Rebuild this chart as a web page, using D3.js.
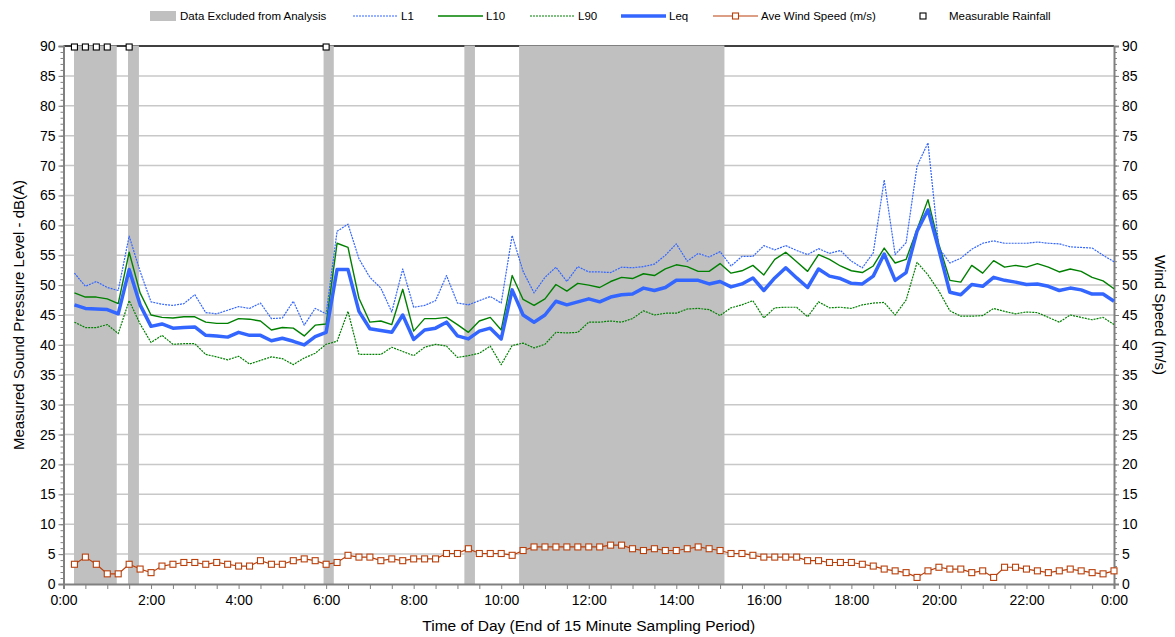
<!DOCTYPE html>
<html>
<head>
<meta charset="utf-8">
<script src="https://cdn.jsdelivr.net/npm/d3@7.9.0/dist/d3.min.js"></script>
<style>
  body { margin: 0; background: #fff; }
  svg { display: block; font-family: "Liberation Sans", Arial, sans-serif; }
</style>
</head>
<body>
<div id="chart"></div>
<script>
/* ------------------------------
 Data (15 minute periods, value at end of period)
------------------------------ */
const minutes = d3.range(1, 97).map((i) => i * 15);

const L1 = [52.0, 49.8, 50.6, 49.6, 49.1, 58.2, 52.3, 47.2, 46.8, 46.6, 46.9, 48.4,
  45.4, 45.2, 45.8, 46.4, 46.1, 47.0, 44.4, 44.5, 47.3, 43.3, 46.1, 45.2,
  59.0, 60.2, 54.4, 51.3, 49.5, 45.5, 52.7, 46.3, 46.6, 47.4, 51.6, 47.0,
  46.7, 47.4, 48.1, 47.0, 58.3, 52.3, 48.7, 51.3, 53.0, 50.6, 53.1, 52.2,
  52.2, 52.1, 53.0, 52.9, 53.1, 53.5, 55.0, 56.9, 54.0, 55.3, 54.7, 55.6,
  53.2, 54.8, 54.8, 56.6, 55.9, 56.6, 55.8, 55.1, 56.1, 55.3, 55.8, 54.0,
  52.9, 55.4, 67.6, 55.1, 57.1, 69.9, 73.8, 56.2, 53.7, 54.5, 56.0, 57.0,
  57.4, 57.0, 57.0, 57.0, 57.2, 57.0, 56.9, 56.4, 56.3, 56.2, 55.0, 53.9];

const L10 = [48.7, 48.0, 48.0, 47.7, 46.9, 55.5, 48.7, 45.0, 44.6, 44.5, 44.7, 44.7,
  43.8, 43.6, 43.6, 44.4, 44.3, 44.0, 42.5, 42.9, 42.8, 41.5, 43.3, 43.5,
  57.0, 56.3, 47.8, 43.8, 44.0, 43.4, 49.3, 42.3, 44.4, 44.4, 44.6, 43.4,
  42.1, 44.0, 44.6, 42.5, 51.6, 47.6, 46.6, 47.7, 50.1, 49.0, 50.3, 50.0,
  49.6, 50.6, 51.3, 51.1, 51.9, 51.6, 52.7, 53.4, 53.1, 52.3, 52.3, 53.6,
  52.0, 52.4, 53.3, 51.7, 54.3, 55.5, 53.9, 52.3, 55.1, 54.3, 53.2, 52.4,
  52.1, 53.2, 56.2, 53.7, 54.3, 59.3, 64.3, 56.8, 50.8, 50.5, 53.3, 52.0,
  54.1, 53.0, 53.3, 53.0, 53.6, 53.0, 52.2, 52.7, 52.3, 51.3, 50.7, 49.4];

const L90 = [43.8, 42.9, 42.9, 43.4, 41.9, 47.4, 43.5, 40.4, 41.6, 40.1, 40.2, 40.2,
  38.4, 38.0, 37.5, 38.1, 36.8, 37.4, 38.0, 37.7, 36.7, 37.8, 38.6, 40.1,
  40.6, 45.6, 38.4, 38.4, 38.4, 39.6, 38.9, 38.2, 39.6, 40.1, 39.8, 37.9,
  38.2, 38.6, 39.8, 36.7, 39.9, 40.3, 39.5, 40.1, 42.1, 42.0, 42.1, 43.8,
  43.8, 44.0, 43.8, 44.4, 45.7, 45.0, 45.3, 45.3, 46.0, 46.1, 45.9, 44.9,
  46.2, 46.7, 47.4, 44.5, 46.2, 46.3, 46.3, 44.7, 47.2, 46.2, 46.3, 46.1,
  46.7, 47.0, 47.1, 45.0, 47.5, 53.8, 51.7, 49.0, 45.7, 44.8, 44.8, 44.9,
  46.1, 45.6, 45.2, 45.5, 45.4, 44.6, 43.8, 45.0, 44.6, 44.2, 44.6, 43.4];

const Leq = [46.7, 46.1, 46.0, 45.9, 45.2, 52.6, 46.7, 43.1, 43.5, 42.8, 42.9, 43.0,
  41.6, 41.5, 41.3, 42.1, 41.6, 41.6, 40.7, 41.1, 40.6, 40.0, 41.4, 42.1,
  52.6, 52.6, 45.6, 42.7, 42.4, 42.1, 45.0, 40.9, 42.5, 42.8, 43.8, 41.5,
  41.0, 42.3, 42.8, 41.0, 49.2, 45.0, 43.8, 45.0, 47.3, 46.7, 47.2, 47.7,
  47.2, 48.0, 48.4, 48.5, 49.5, 49.1, 49.6, 50.8, 50.8, 50.8, 50.2, 50.6,
  49.7, 50.2, 51.2, 49.1, 51.2, 52.9, 51.2, 49.6, 52.7, 51.5, 51.1, 50.3,
  50.2, 51.5, 55.2, 50.8, 52.1, 59.0, 62.6, 55.9, 48.8, 48.4, 50.1, 49.8,
  51.3, 50.8, 50.5, 50.1, 50.2, 49.8, 49.1, 49.5, 49.2, 48.5, 48.5, 47.3];

const wind = [3.3, 4.5, 3.3, 1.7, 1.7, 3.3, 2.5, 1.9, 3.0, 3.3, 3.6, 3.6,
  3.3, 3.6, 3.3, 3.0, 3.0, 3.9, 3.3, 3.3, 3.9, 4.2, 3.9, 3.3,
  3.6, 4.8, 4.5, 4.5, 3.9, 4.2, 3.9, 4.2, 4.2, 4.2, 5.1, 5.1,
  5.9, 5.1, 5.1, 5.1, 4.8, 5.6, 6.2, 6.2, 6.2, 6.2, 6.2, 6.2,
  6.2, 6.5, 6.5, 5.9, 5.6, 5.9, 5.6, 5.6, 5.9, 6.2, 5.9, 5.6,
  5.1, 5.1, 4.8, 4.5, 4.5, 4.5, 4.5, 3.9, 3.9, 3.6, 3.6, 3.6,
  3.3, 3.0, 2.5, 2.2, 1.9, 1.1, 2.2, 2.8, 2.5, 2.5, 1.9, 2.2,
  1.1, 2.8, 2.8, 2.5, 2.2, 1.9, 2.2, 2.5, 2.2, 1.9, 1.7, 2.2];

// minutes of day with measurable rainfall (plotted at top of chart)
const rainfallMinutes = [15, 30, 45, 60, 90, 360];
const rainfallLevel = 90;

// excluded periods, start / end in minutes
const excluded = [[14.4, 73], [88.4, 103.4], [356.5, 370.5], [549.5, 564], [624.5, 906]];

const yTicks = d3.range(0, 95, 5);

/* ------------------------------
 Layout
------------------------------ */
const width = 1175;
const height = 637;
const margin = { top: 46, right: 61, bottom: 53, left: 63.5 };

const svg = d3.select("#chart").append("svg")
  .attr("width", width)
  .attr("height", height);

const x = d3.scaleLinear().domain([0, 1440]).range([margin.left, width - margin.right]);
const y = d3.scaleLinear().domain([0, 90]).range([height - margin.bottom, margin.top]);

// --- Gridlines ---
svg.append("g")
  .selectAll("line")
  .data(yTicks.filter((d) => d > 0 && d < 90))
  .join("line")
  .attr("x1", x(0)).attr("x2", x(1440))
  .attr("y1", (d) => y(d)).attr("y2", (d) => y(d))
  .attr("stroke", "#c8c8c8")
  .attr("stroke-width", 1.5);

svg.append("line")
  .attr("x1", x(0)).attr("x2", x(1440))
  .attr("y1", y(90)).attr("y2", y(90))
  .attr("stroke", "#000")
  .attr("stroke-width", 1.5);

// --- Excluded bands ---
svg.append("g")
  .selectAll("rect")
  .data(excluded)
  .join("rect")
  .attr("x", (d) => x(d[0]))
  .attr("width", (d) => x(d[1]) - x(d[0]))
  .attr("y", y(90) - 0.5)
  .attr("height", y(0) - y(90) + 0.5)
  .attr("fill", "#c0c0c0");

// --- Axes ---
const fmtTime = (m) => `${Math.floor((m % 1440) / 60)}:${String(m % 60).padStart(2, "0")}`;

const xAxis = d3.axisBottom(x)
  .tickValues(d3.range(0, 1441, 30))
  .tickSize(5)
  .tickFormat((d) => (d % 120 === 0 ? fmtTime(d) : ""));

svg.append("g")
  .attr("transform", `translate(0,${y(0)})`)
  .call(xAxis)
  .call((g) => {
    g.select(".domain").attr("stroke", "#808080").attr("stroke-width", 2);
    g.selectAll(".tick line").attr("stroke", "#808080");
    g.selectAll(".tick text").attr("font-size", 14).attr("fill", "#000").attr("dy", "0.95em");
  });

function yAxisFor(axisFn, xPos) {
  const major = axisFn(y).tickValues(yTicks).tickSize(5);
  const minor = axisFn(y).tickValues(d3.range(0, 91, 1)).tickSize(3).tickFormat("");
  svg.append("g")
    .attr("transform", `translate(${xPos},0)`)
    .call(minor)
    .call((g) => {
      g.select(".domain").remove();
      g.selectAll(".tick line").attr("stroke", "#808080");
    });
  svg.append("g")
    .attr("transform", `translate(${xPos},0)`)
    .call(major)
    .call((g) => {
      g.select(".domain").attr("stroke", "#808080").attr("stroke-width", 2);
      g.selectAll(".tick line").attr("stroke", "#808080");
      g.selectAll(".tick text").attr("font-size", 14).attr("fill", "#000");
    });
}
yAxisFor(d3.axisLeft, x(0));
yAxisFor(d3.axisRight, x(1440));

// --- Lines ---
const line = (vals) => d3.line()
  .x((d, i) => x(minutes[i]))
  .y((d) => y(d))(vals);

const series = [
  { name: "L90", vals: L90, color: "#008000", w: 1.2, dash: "2,1" },
  { name: "L10", vals: L10, color: "#008000", w: 1.4, dash: null },
  { name: "L1", vals: L1, color: "#3366ff", w: 1.2, dash: "2,1" },
  { name: "Leq", vals: Leq, color: "#3366ff", w: 3.5, dash: null },
];

svg.append("g")
  .selectAll("path")
  .data(series)
  .join("path")
  .attr("d", (d) => line(d.vals))
  .attr("fill", "none")
  .attr("stroke", (d) => d.color)
  .attr("stroke-width", (d) => d.w)
  .attr("stroke-dasharray", (d) => d.dash)
  .attr("stroke-linejoin", "round");

// --- Wind speed ---
const windColor = "#b9400c";
svg.append("path")
  .attr("d", line(wind))
  .attr("fill", "none")
  .attr("stroke", windColor)
  .attr("stroke-width", 1.2);

svg.append("g")
  .selectAll("rect")
  .data(wind)
  .join("rect")
  .attr("x", (d, i) => x(minutes[i]) - 3)
  .attr("y", (d) => y(d) - 3)
  .attr("width", 6)
  .attr("height", 6)
  .attr("fill", "#fff")
  .attr("stroke", windColor)
  .attr("stroke-width", 1.1);

// --- Rainfall markers ---
svg.append("g")
  .selectAll("rect")
  .data(rainfallMinutes)
  .join("rect")
  .attr("x", (d) => x(d) - 3)
  .attr("y", y(rainfallLevel) - 2)
  .attr("width", 6)
  .attr("height", 6)
  .attr("fill", "#fff")
  .attr("stroke", "#000")
  .attr("stroke-width", 1.1);

// --- Axis titles ---
svg.append("text")
  .attr("x", (x(0) + x(1440)) / 2)
  .attr("y", 631)
  .attr("text-anchor", "middle")
  .attr("font-size", 15.5)
  .text("Time of Day (End of 15 Minute Sampling Period)");

svg.append("text")
  .attr("transform", `translate(24,${(y(0) + y(90)) / 2}) rotate(-90)`)
  .attr("text-anchor", "middle")
  .attr("font-size", 15)
  .text("Measured Sound Pressure Level - dB(A)");

svg.append("text")
  .attr("transform", `translate(1155,${(y(0) + y(90)) / 2}) rotate(90)`)
  .attr("text-anchor", "middle")
  .attr("font-size", 15)
  .text("Wind Speed (m/s)");

// --- Legend ---
const legend = svg.append("g").attr("font-size", 11.5);
const ly = 16;

legend.append("rect").attr("x", 150).attr("y", ly - 5).attr("width", 26).attr("height", 10).attr("fill", "#c0c0c0");
legend.append("text").attr("x", 180).attr("y", ly + 4).text("Data Excluded from Analysis");

const legendLines = [
  { x: 353, label: "L1", color: "#3366ff", w: 1.2, dash: "2,1" },
  { x: 438, label: "L10", color: "#008000", w: 1.4, dash: null },
  { x: 530, label: "L90", color: "#008000", w: 1.2, dash: "2,1" },
  { x: 621, label: "Leq", color: "#3366ff", w: 3.5, dash: null },
  { x: 713, label: "Ave Wind Speed (m/s)", color: windColor, w: 1.2, dash: null },
];
legendLines.forEach((d) => {
  legend.append("line")
    .attr("x1", d.x).attr("x2", d.x + 45)
    .attr("y1", ly).attr("y2", ly)
    .attr("stroke", d.color)
    .attr("stroke-width", d.w)
    .attr("stroke-dasharray", d.dash);
  legend.append("text").attr("x", d.x + 48).attr("y", ly + 4).text(d.label);
});
legend.append("rect").attr("x", 732.5).attr("y", ly - 3).attr("width", 6).attr("height", 6)
  .attr("fill", "#fff").attr("stroke", windColor).attr("stroke-width", 1.1);

legend.append("rect").attr("x", 920).attr("y", ly - 3).attr("width", 6).attr("height", 6)
  .attr("fill", "#fff").attr("stroke", "#000").attr("stroke-width", 1.1);
legend.append("text").attr("x", 949).attr("y", ly + 4).text("Measurable Rainfall");
</script>
</body>
</html>
